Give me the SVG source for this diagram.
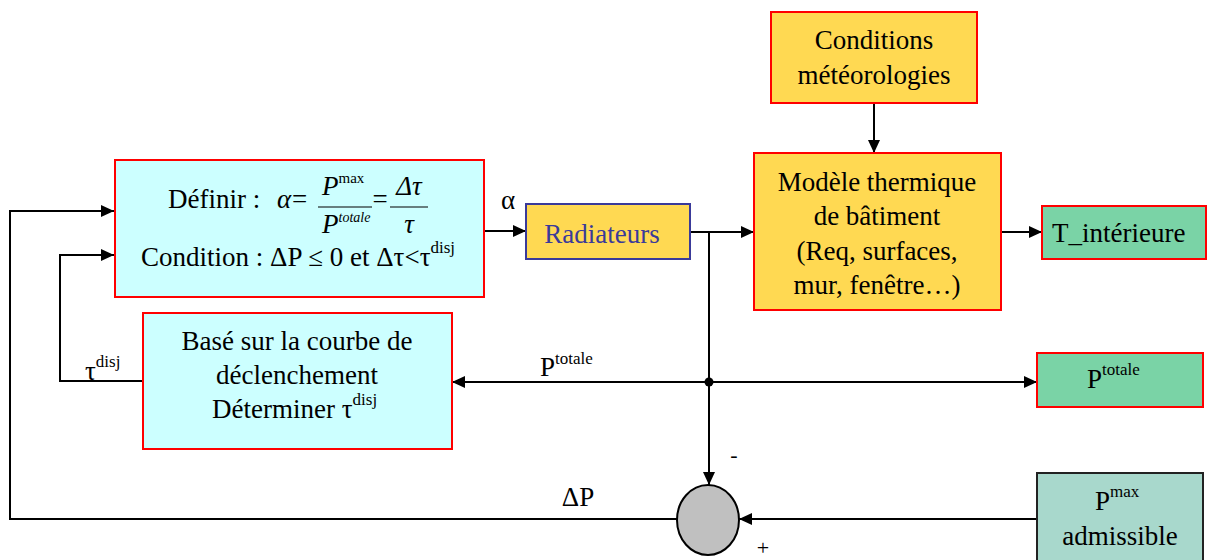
<svg xmlns="http://www.w3.org/2000/svg" width="1207" height="560" viewBox="0 0 1207 560">
<style>
text{font-family:"Liberation Serif","Times New Roman",serif;font-size:27px;fill:#000}
.c{text-anchor:middle}
.sup{font-size:17px}
.it{font-style:italic}
.ln{fill:none;stroke:#000;stroke-width:2}
.cyan{fill:#ccffff;stroke:#ff0000;stroke-width:2}
.yel{fill:#ffd952;stroke:#ff0000;stroke-width:2}
.grn{fill:#7ad3a6;stroke:#ff0000;stroke-width:2}
</style>
<defs>
<marker id="ah" markerUnits="userSpaceOnUse" markerWidth="13" markerHeight="12" refX="13" refY="6" orient="auto-start-reverse" viewBox="0 0 13 12">
<path d="M0,0 L13,6 L0,12 z" fill="#000"/>
</marker>
</defs>
<rect width="1207" height="560" fill="#fff"/>
<g id="connectors">
<line class="ln" x1="484" y1="231" x2="526" y2="231" marker-end="url(#ah)"/>
<line class="ln" x1="690" y1="232" x2="754" y2="232" marker-end="url(#ah)"/>
<line class="ln" x1="874" y1="103" x2="874" y2="153" marker-end="url(#ah)"/>
<line class="ln" x1="1001" y1="232" x2="1042" y2="232" marker-end="url(#ah)"/>
<line class="ln" x1="709" y1="232" x2="709" y2="485" marker-end="url(#ah)"/>
<line class="ln" x1="452" y1="382" x2="1037" y2="382" marker-start="url(#ah)" marker-end="url(#ah)"/>
<circle cx="709" cy="382" r="4.5" fill="#000"/>
<line class="ln" x1="1037" y1="519" x2="739" y2="519" marker-end="url(#ah)"/>
<polyline class="ln" points="677,519 10,519 10,211 114,211" marker-end="url(#ah)"/>
<polyline class="ln" points="143,381 60,381 60,255 114,255" marker-end="url(#ah)"/>
<text x="508" y="209" class="c">α</text>
<text x="540" y="376">P<tspan class="sup" dy="-12">totale</tspan></text>
<text x="85" y="380">τ<tspan class="sup" dy="-13">disj</tspan></text>
<text x="578" y="506" class="c">ΔP</text>
<text x="734" y="462" class="c" style="font-size:22px">-</text>
<text x="763" y="555" class="c" style="font-size:22px">+</text>
</g>
<g id="definir">
<rect class="cyan" x="115" y="160" width="369" height="137"/>
<text x="168" y="208">Définir :</text>
<text x="277" y="208" class="it">α</text>
<text x="292" y="208">=</text>
<line x1="318" y1="207" x2="372" y2="207" stroke="#000" stroke-width="1.2"/>
<text x="322" y="195" class="it">P<tspan style="font-size:15px;font-style:normal" dy="-12">max</tspan></text>
<text x="322" y="233" class="it">P<tspan style="font-size:14px" dy="-11">totale</tspan></text>
<text x="380" y="208" class="c">=</text>
<line x1="390" y1="207" x2="428" y2="207" stroke="#000" stroke-width="1.2"/>
<text x="409" y="195" class="c it">Δτ</text>
<text x="409" y="233" class="c it">τ</text>
<text x="141" y="266">Condition : ΔP ≤ 0 et Δτ&lt;τ<tspan class="sup" dy="-13">disj</tspan></text>
</g>
<g id="radiateurs">
<rect x="526" y="204" width="164" height="55" fill="#ffd952" stroke="#3a3a9a" stroke-width="2"/>
<text x="602" y="243" class="c" style="fill:#3a3a9a">Radiateurs</text>
</g>
<g id="conditions">
<rect class="yel" x="771" y="12" width="206" height="91"/>
<text x="874" y="49" class="c">Conditions</text>
<text x="874" y="84" class="c">météorologies</text>
</g>
<g id="modele">
<rect class="yel" x="754" y="153" width="247" height="157"/>
<text x="877" y="191" class="c">Modèle thermique</text>
<text x="877" y="225" class="c">de bâtiment</text>
<text x="877" y="260" class="c">(Req, surfaces,</text>
<text x="877" y="294" class="c">mur, fenêtre…)</text>
</g>
<g id="tint">
<rect class="grn" x="1042" y="206" width="164" height="53"/>
<text x="1052" y="242">T_intérieure</text>
</g>
<g id="base">
<rect class="cyan" x="143" y="313" width="309" height="136"/>
<text x="297" y="350" class="c">Basé sur la courbe de</text>
<text x="297" y="384" class="c">déclenchement</text>
<text x="212" y="418">Déterminer τ<tspan class="sup" dy="-13">disj</tspan></text>
</g>
<g id="ptotale">
<rect class="grn" x="1037" y="353" width="166" height="54"/>
<text x="1087" y="388">P<tspan class="sup" dy="-13">totale</tspan></text>
</g>
<g id="pmax">
<rect x="1037" y="473" width="166" height="95" fill="#a8d8cc" stroke="#222" stroke-width="2"/>
<text x="1095" y="510">P<tspan class="sup" dy="-13">max</tspan></text>
<text x="1120" y="545" class="c">admissible</text>
</g>
<g id="sum">
<ellipse cx="708" cy="520" rx="31" ry="35" fill="#c0c0c0" stroke="#000" stroke-width="2"/>
</g>
</svg>
